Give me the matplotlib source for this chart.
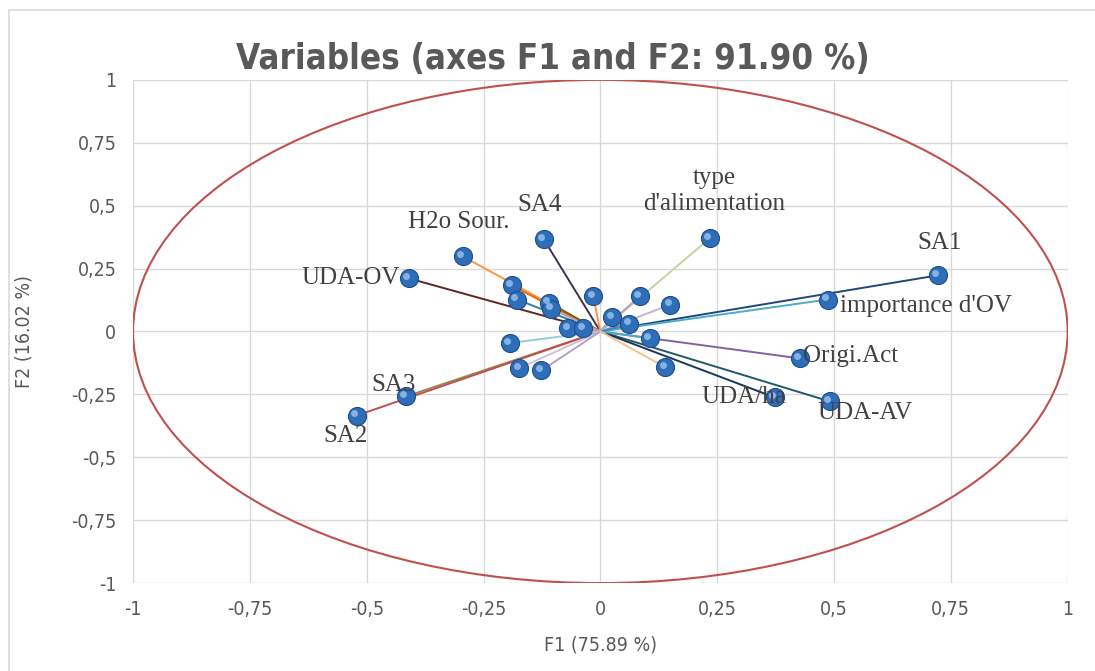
import matplotlib.pyplot as plt
from matplotlib.patches import Circle, Rectangle
from matplotlib.transforms import ScaledTranslation

# coordonnees des variables sur F1 / F2
noms = ["SA1", "importance d'OV", "type\nd'alimentation", "Origi.Act", "UDA-AV",
        "UDA/ha", "SA4", "H2o Sour.", "UDA-OV", "SA3", "SA2",
        "", "", "", "", "", "", "", "", "", "", "", "", "", "", "", ""]
f1 = [0.722, 0.487, 0.234, 0.427, 0.491, 0.373, -0.121, -0.294, -0.410, -0.416, -0.521,
      -0.190, -0.179, -0.110, -0.105, -0.015, 0.084, 0.150, 0.025, 0.062, -0.069,
      -0.037, 0.106, -0.194, -0.174, -0.126, 0.139]
f2 = [0.223, 0.127, 0.370, -0.107, -0.278, -0.262, 0.366, 0.298, 0.211, -0.258, -0.334,
      0.183, 0.127, 0.115, 0.090, 0.139, 0.140, 0.107, 0.057, 0.031, 0.013,
      0.013, -0.027, -0.046, -0.146, -0.155, -0.142]
couleurs = ['#1F497D', '#4BACC6', '#C4D79B', '#8064A2', '#215968', '#17375E', '#403151',
            '#F79646', '#632523', '#948A54', '#C0504D',
            '#E46C0A', '#31859C', '#7F6000', '#B7A1D1', '#F79646', '#B3A2C7', '#C3B3DB',
            '#95B3D7', '#4F81BD', '#FAC090', '#D99694', '#4BACC6', '#93CDDD', '#CCC1DA',
            '#B3A2C7', '#FABF8F']

# decalages des etiquettes (points) et alignement
decal = {
    "SA1": (1.5, 23, 'center'),
    "importance d'OV": (8.5, -4.5, 'left'),
    "type\nd'alimentation": (3.5, 34, 'center'),
    "Origi.Act": (2, 2, 'left'),
    "UDA-AV": (-8.5, -8, 'left'),
    "UDA/ha": (8.5, 0, 'right'),
    "SA4": (-3, 25, 'center'),
    "H2o Sour.": (-3, 25, 'center'),
    "UDA-OV": (-6.5, 0.5, 'right'),
    "SA3": (-9, 8.5, 'center'),
    "SA2": (-8.5, -15, 'center'),
}

police = ['DejaVu Sans']

fig = plt.figure(figsize=(10.95, 6.71), dpi=100)
fig.patches.append(Rectangle((0.008, -0.01), 1.1, 0.995, transform=fig.transFigure,
                             fill=False, edgecolor='#D9D9D9', linewidth=1.2))
ax = fig.add_axes([0.1215, 0.131, 0.8535, 0.75])

ax.set_xlim(-1, 1)
ax.set_ylim(-1, 1)
ax.set_xticks([-1, -0.75, -0.5, -0.25, 0, 0.25, 0.5, 0.75, 1])
ax.set_yticks([-1, -0.75, -0.5, -0.25, 0, 0.25, 0.5, 0.75, 1])
ax.set_xticklabels(['-1', '-0,75', '-0,5', '-0,25', '0', '0,25', '0,5', '0,75', '1'])
ax.set_yticklabels(['-1', '-0,75', '-0,5', '-0,25', '0', '0,25', '0,5', '0,75', '1'])
ax.grid(True, color='#D9D9D9', linewidth=1)
ax.set_axisbelow(True)
for s in ax.spines.values():
    s.set_visible(False)
ax.tick_params(length=0, colors='#595959', labelsize=14, pad=12)
for t in ax.get_xticklabels() + ax.get_yticklabels():
    t.set_family(police)
    t.set_stretch('condensed')

ax.add_patch(Circle((0, 0), 1, fill=False, edgecolor='#C0504D', linewidth=1.5, zorder=2))

for x, y, c in zip(f1, f2, couleurs):
    ax.plot([0, x], [0, y], color=c, linewidth=1.4, zorder=3)
ax.plot(f1, f2, 'o', markersize=13, color='#2E6DB8', markeredgecolor='#1F4E8C',
        markeredgewidth=0.8, zorder=4)
reflet = ax.transData + ScaledTranslation(-1.8 / 72, 1.8 / 72, fig.dpi_scale_trans)
ax.plot(f1, f2, 'o', markersize=5, color='#9CC3EE', markeredgewidth=0, alpha=0.8,
        zorder=5, transform=reflet)

for n, x, y in zip(noms, f1, f2):
    if n in decal:
        dx, dy, ha = decal[n]
        ax.annotate(n, (x, y), xytext=(dx, dy), textcoords='offset points',
                    ha=ha, va='center', multialignment='center', fontsize=18,
                    family='Liberation Serif', color='#404040', zorder=6)

ax.set_xlabel('F1 (75.89 %)', fontsize=14, color='#595959', labelpad=12,
              family=police, fontstretch='condensed')
ax.set_ylabel('F2 (16.02 %)', fontsize=14, color='#595959', labelpad=27,
              family=police, fontstretch='condensed')
fig.text(0.505, 0.912, 'Variables (axes F1 and F2: 91.90 %)', ha='center', va='center',
         fontsize=25, fontweight='bold', color='#595959',
         family=police, fontstretch='condensed')

fig.savefig('out.png', dpi=100)
